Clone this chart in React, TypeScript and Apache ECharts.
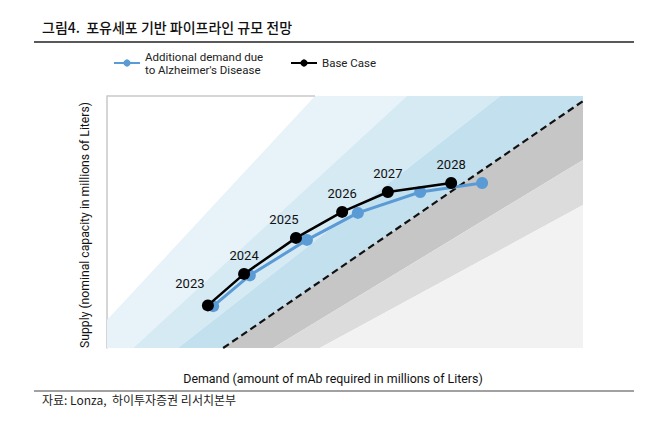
import React, { useEffect, useRef } from "react";
import * as echarts from "echarts";

// Years (point labels)
const years = ["2023", "2024", "2025", "2026", "2027", "2028"];
// Base case: demand (x) and supply (y), relative units
const baseDemand = [21.2, 28.8, 39.7, 49.4, 59.0, 72.3];
const baseSupply = [16.9, 29.4, 43.7, 54.0, 61.9, 65.5];
// Additional demand due to Alzheimer's Disease
const alzDemand = [22.3, 30.0, 42.0, 52.7, 65.8, 78.8];
const alzSupply = [16.6, 28.8, 42.9, 53.6, 61.9, 65.5];
// Label nudges for year labels
const labelOffsets = [[-18, -4], [0, -1], [-12, -1], [0, -1], [0, -1], [0, -1]];

// Diagonal supply/demand zones (data coordinates)
const zoneLightBlue1 = [[0, 0], [0, 11.1], [43.7, 100], [63.0, 100], [5.5, 0]];
const zoneLightBlue2 = [[5.5, 0], [63.0, 100], [82.6, 100], [14.9, 0]];
const zoneLightBlue3 = [[14.9, 0], [82.6, 100], [100, 100], [100, 98.0], [24.4, 0]];
const zoneGrayDark = [[24.4, 0], [100, 98.0], [100, 74.6], [34.9, 0]];
const zoneGrayMid = [[34.9, 0], [100, 74.6], [100, 56.7], [44.7, 0]];
const zoneGrayLight = [[44.7, 0], [100, 56.7], [100, 0]];
const zones = [zoneLightBlue1, zoneLightBlue2, zoneLightBlue3, zoneGrayDark, zoneGrayMid, zoneGrayLight];
const zoneColors = ["#e8f3f9", "#d6eaf4", "#c3e0ef", "#c6c6c6", "#dcdcdc", "#f2f2f2"];
// Supply = demand parity line (dashed)
const parityLine = [[24.4, 0], [100, 98.0]];
// Border of the white area along the top
const topBorder = [[0, 100], [43.7, 100]];

const ALZ = "Additional demand due\nto Alzheimer's Disease";
const BASE = "Base Case";

export default function App() {
  const ref = useRef<HTMLDivElement>(null);
  useEffect(() => {
    document.body.style.margin = "0";
    const chart = echarts.init(ref.current!, null, { renderer: "svg" });
    const font = "Roboto, 'Noto Sans', sans-serif";
    const kfont = "'Noto Sans CJK KR', 'Noto Sans', sans-serif";
    chart.setOption({
      animation: false,
      backgroundColor: "#ffffff",
      title: [
        {
          text: "그림4.  포유세포 기반 파이프라인 규모 전망",
          left: 37,
          top: 15,
          textStyle: { fontFamily: kfont, fontSize: 14, fontWeight: 500, color: "#111" },
        },
        {
          text: "자료: Lonza,  하이투자증권 리서치본부",
          left: 37,
          top: 388,
          textStyle: { fontFamily: kfont, fontSize: 12, fontWeight: 400, color: "#222" },
        },
      ],
      graphic: [
        { type: "line", shape: { x1: 34, y1: 42, x2: 634, y2: 42 }, style: { stroke: "#222", lineWidth: 1.3 } },
        { type: "line", shape: { x1: 34, y1: 391, x2: 634, y2: 391 }, style: { stroke: "#444", lineWidth: 1.2 } },
      ],
      legend: [
        {
          data: [ALZ],
          left: 113,
          top: 50,
          padding: 0,
          itemWidth: 26,
          itemHeight: 9,
          textStyle: { fontFamily: font, fontSize: 11.5, lineHeight: 13, color: "#222" },
        },
        {
          data: [BASE],
          left: 290,
          top: 57,
          padding: 0,
          itemWidth: 26,
          itemHeight: 9,
          textStyle: { fontFamily: font, fontSize: 11.5, color: "#222" },
        },
      ],
      grid: { left: 107, top: 96, width: 476, height: 252 },
      xAxis: {
        type: "value",
        min: 0,
        max: 100,
        axisLine: { show: false },
        axisTick: { show: false },
        axisLabel: { show: false },
        splitLine: { show: false },
        name: "Demand (amount of mAb required in millions of Liters)",
        nameLocation: "middle",
        nameGap: 24,
        nameTextStyle: { fontFamily: font, fontSize: 12.4, color: "#111", padding: [0, 24, 0, 0] },
      },
      yAxis: {
        type: "value",
        min: 0,
        max: 100,
        axisLine: { show: true, lineStyle: { color: "#c8c8c8", width: 1.5 } },
        axisTick: { show: false },
        axisLabel: { show: false },
        splitLine: { show: false },
        name: "Supply (nominal capacity in millions of Liters)",
        nameLocation: "middle",
        nameGap: 16,
        nameTextStyle: { fontFamily: font, fontSize: 12.2, color: "#111", padding: [0, 0, 0, -6] },
      },
      series: [
        {
          type: "custom",
          silent: true,
          z: 1,
          data: zones.map((_, i) => [i, 0]),
          renderItem: (params: any, api: any) => {
            const i = params.dataIndex;
            return {
              type: "polygon",
              shape: { points: zones[i].map((p) => api.coord(p)) },
              style: { fill: zoneColors[i], stroke: null },
            };
          },
        },
        {
          type: "line",
          z: 2,
          data: topBorder,
          symbol: "none",
          clip: false,
          lineStyle: { color: "#c8c8c8", width: 1.5 },
          silent: true,
        },
        {
          type: "line",
          z: 3,
          data: parityLine,
          symbol: "none",
          lineStyle: { color: "#111", width: 2.2, type: [7, 4] },
          silent: true,
        },
        {
          name: ALZ,
          type: "line",
          z: 4,
          data: alzDemand.map((x, i) => [x, alzSupply[i]]),
          symbol: "circle",
          symbolSize: 12,
          itemStyle: { color: "#5b9bd5" },
          lineStyle: { color: "#5b9bd5", width: 3 },
        },
        {
          name: BASE,
          type: "line",
          z: 5,
          data: baseDemand.map((x, i) => ({
            value: [x, baseSupply[i]],
            label: { offset: labelOffsets[i] },
          })),
          symbol: "circle",
          symbolSize: 12,
          itemStyle: { color: "#000" },
          lineStyle: { color: "#000", width: 2.5 },
          label: {
            show: true,
            position: "top",
            distance: 5,
            formatter: (p: any) => years[p.dataIndex],
            fontFamily: font,
            fontSize: 13,
            color: "#111",
          },
        },
      ],
    });
    return () => chart.dispose();
  }, []);
  return <div ref={ref} style={{ width: 658, height: 423 }} />;
}
